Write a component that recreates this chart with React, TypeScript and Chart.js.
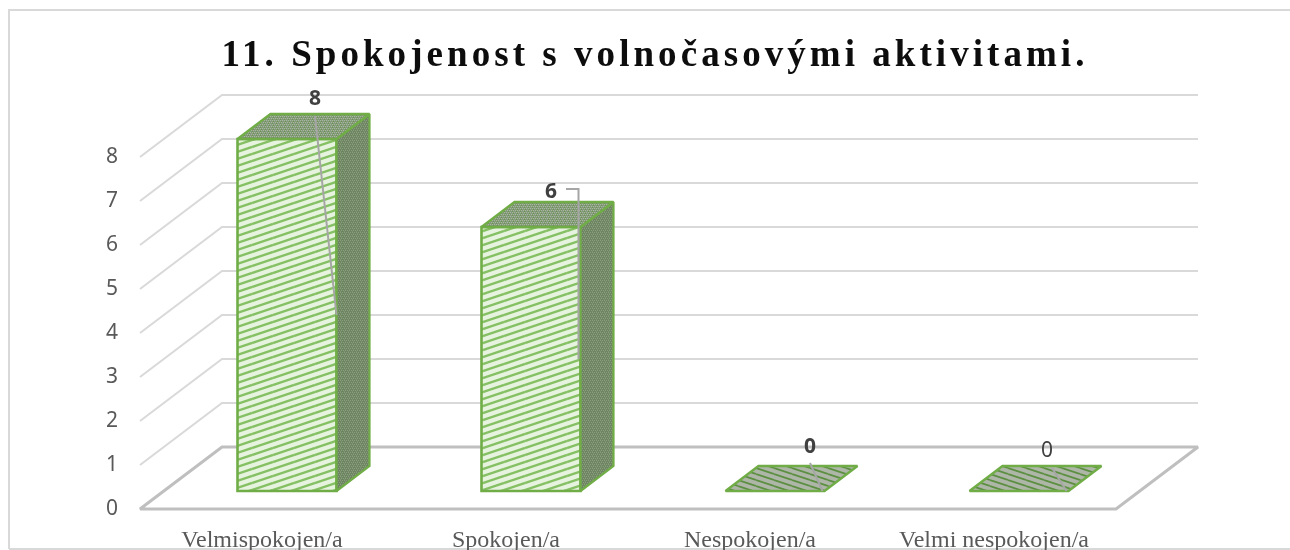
import React, { useEffect, useRef } from "react";
import { Chart, registerables } from "chart.js";

Chart.register(...registerables);

const TITLE = "11. Spokojenost s volnočasovými aktivitami.";
const categories = ["Velmispokojen/a", "Spokojen/a", "Nespokojen/a", "Velmi nespokojen/a"];
const values = [8, 6, 0, 0];
const yMax = 8;
const labelBold = [true, true, true, false];

// layout / style constants (not data)
const WALL_DX = 82;
const WALL_DY = -62;
const BAR_FRONT_DX = 25;
const BAR_FRONT_DY = -18;
const BAR_DX = 33;
const BAR_DY = -25;
const BAR_W = 99;
const GREEN = "#70ad47";
const TITLE_SHIFT = 97;
const labelOffsets = [
  [53, -42],
  [45, -37],
  [60, -46],
  [53, -42],
];

function tile(w: number, h: number, paint: (c: CanvasRenderingContext2D) => void) {
  const cv = document.createElement("canvas");
  cv.width = w;
  cv.height = h;
  const c = cv.getContext("2d")!;
  paint(c);
  return cv;
}

function stripes(w: number, h: number, bg: string, fg: string, lw: number, rising: boolean) {
  return tile(w, h, (c) => {
    c.fillStyle = bg;
    c.fillRect(0, 0, w, h);
    c.strokeStyle = fg;
    c.lineWidth = lw;
    for (let k = -2; k <= 2; k++) {
      c.beginPath();
      if (rising) {
        c.moveTo(0, h + k * h);
        c.lineTo(w, k * h);
      } else {
        c.moveTo(0, k * h);
        c.lineTo(w, h + k * h);
      }
      c.stroke();
    }
  });
}

function dots(w: number, h: number, bg: string, fg: string, fg2: string) {
  return tile(w, h, (c) => {
    c.fillStyle = bg;
    c.fillRect(0, 0, w, h);
    c.fillStyle = fg;
    for (let y = 0; y < h; y += 2) {
      for (let x = (y / 2) % 2 === 0 ? 0 : 1; x < w; x += 2) c.fillRect(x, y, 1, 1);
    }
    c.fillStyle = fg2;
    for (let y = 1; y < h; y += 2) {
      for (let x = ((y - 1) / 2) % 2 === 0 ? 1 : 0; x < w; x += 4) c.fillRect(x, y, 1, 1);
    }
  });
}

function poly(ctx: CanvasRenderingContext2D, pts: number[][], fill: any, stroke: string, lw: number) {
  ctx.beginPath();
  pts.forEach((p, i) => (i ? ctx.lineTo(p[0], p[1]) : ctx.moveTo(p[0], p[1])));
  ctx.closePath();
  if (fill) {
    ctx.fillStyle = fill;
    ctx.fill();
  }
  if (stroke) {
    ctx.strokeStyle = stroke;
    ctx.lineWidth = lw;
    ctx.lineJoin = "miter";
    ctx.miterLimit = 2;
    ctx.stroke();
  }
}

const scene3d = {
  id: "scene3d",
  beforeDraw(chart: any) {
    const tb = chart.titleBlock;
    if (tb && !tb.__spaced) {
      const orig = tb.draw.bind(tb);
      tb.draw = () => {
        const c = chart.ctx;
        c.save();
        c.letterSpacing = "4.05px";
        c.translate(TITLE_SHIFT, 0);
        orig();
        c.restore();
      };
      tb.__spaced = true;
    }
    const { ctx, width, height } = chart;
    ctx.save();
    ctx.fillStyle = "#fff";
    ctx.fillRect(0, 0, width, height);
    ctx.strokeStyle = "#d9d9d9";
    ctx.lineWidth = 2;
    ctx.beginPath();
    ctx.moveTo(9, 549);
    ctx.lineTo(9, 10);
    ctx.lineTo(width + 4, 10);
    ctx.moveTo(9, 549);
    ctx.lineTo(width + 4, 549);
    ctx.stroke();
    ctx.restore();
  },
  beforeDatasetsDraw(chart: any) {
    const { ctx, chartArea, scales } = chart;
    const yS = scales.y;
    ctx.save();
    ctx.strokeStyle = "#d9d9d9";
    ctx.lineWidth = 2;
    for (const t of yS.ticks) {
      if (t.value === 0) continue;
      const y = yS.getPixelForValue(t.value);
      ctx.beginPath();
      ctx.moveTo(chartArea.left, y);
      ctx.lineTo(chartArea.left + WALL_DX, y + WALL_DY);
      ctx.lineTo(chartArea.right + WALL_DX, y + WALL_DY);
      ctx.stroke();
    }
    const y0 = yS.getPixelForValue(0);
    poly(
      ctx,
      [
        [chartArea.left, y0],
        [chartArea.right, y0],
        [chartArea.right + WALL_DX, y0 + WALL_DY],
        [chartArea.left + WALL_DX, y0 + WALL_DY],
      ],
      null,
      "#bfbfbf",
      3
    );
    ctx.restore();
  },
  afterDatasetsDraw(chart: any) {
    const { ctx } = chart;
    const meta = chart.getDatasetMeta(0);
    const frontP = ctx.createPattern(stripes(21, 7, "#e6f3de", "#86c064", 2.4, true), "repeat");
    const sideP = ctx.createPattern(dots(4, 4, "#6d8561", "#8c9e80", "#7c9270"), "repeat");
    const topP = ctx.createPattern(dots(4, 4, "#84987a", "#a9b8a0", "#6b9353"), "repeat");
    const flatP = ctx.createPattern(stripes(18, 6, "#aeb6a8", "#5d8f43", 1.8, false), "repeat");
    ctx.save();
    meta.data.forEach((el: any, i: number) => {
      const x0 = el.x + BAR_FRONT_DX - BAR_W / 2;
      const x1 = x0 + BAR_W;
      const yT = el.y + BAR_FRONT_DY;
      const yB = el.base + BAR_FRONT_DY;
      const flat = values[i] === 0;
      if (!flat) {
        poly(ctx, [[x0, yT], [x1, yT], [x1, yB], [x0, yB]], frontP, GREEN, 2.6);
        poly(ctx, [[x1, yT], [x1 + BAR_DX, yT + BAR_DY], [x1 + BAR_DX, yB + BAR_DY], [x1, yB]], sideP, GREEN, 2.2);
      }
      poly(ctx, [[x0, yT], [x1, yT], [x1 + BAR_DX, yT + BAR_DY], [x0 + BAR_DX, yT + BAR_DY]], flat ? flatP : topP, GREEN, 2.4);

      const lx = el.x + labelOffsets[i][0];
      const ly = yT + labelOffsets[i][1];
      ctx.strokeStyle = "#a6a6a6";
      ctx.lineWidth = 2;
      ctx.beginPath();
      if (i === 1) {
        ctx.moveTo(lx + 15, ly - 1);
        ctx.lineTo(x1 - 2, ly - 1);
        ctx.lineTo(x1 - 2, yT + (yB - yT) * 0.5);
      } else if (i === 0) {
        ctx.moveTo(lx, yT + BAR_DY + 2);
        ctx.lineTo(x1, yT + (yB - yT) * 0.5);
      } else {
        ctx.moveTo(lx - (i === 2 ? 0 : -5), yT + BAR_DY - (i === 2 ? 3 : -2));
        ctx.lineTo(x1 - 2, yT);
      }
      ctx.stroke();

      ctx.fillStyle = "#404040";
      ctx.font = `${labelBold[i] ? "bold " : ""}21px "Noto Sans", sans-serif`;
      ctx.textAlign = "center";
      ctx.textBaseline = "middle";
      ctx.fillText(String(values[i]), lx, ly + 2);
    });
    ctx.restore();
  },
};

export default function App() {
  const ref = useRef<HTMLCanvasElement>(null);
  useEffect(() => {
    const chart = new Chart(ref.current!, {
      type: "bar",
      data: {
        labels: categories,
        datasets: [
          {
            data: values,
            backgroundColor: "transparent",
            borderWidth: 0,
            barThickness: BAR_W,
          },
        ],
      },
      options: {
        responsive: false,
        animation: false,
        layout: { padding: { left: 0, right: 174, top: 0, bottom: 0 } },
        plugins: {
          legend: { display: false },
          tooltip: { enabled: false },
          title: {
            display: true,
            text: TITLE,
            color: "#0d0d0d",
            font: { family: '"Liberation Serif", serif', size: 37, weight: "bold", lineHeight: 1.2 },
            padding: { top: 34, bottom: 78.6 },
            align: "center",
          },
        },
        scales: {
          x: {
            grid: { display: false, drawTicks: false },
            border: { display: false },
            ticks: {
              color: "#595959",
              padding: 17,
              maxRotation: 0,
              autoSkip: false,
              font: { family: '"Liberation Serif", serif', size: 24 },
            },
            afterFit(s: any) {
              s.height = 41;
            },
          },
          y: {
            min: 0,
            max: yMax,
            grid: { display: false, drawTicks: false },
            border: { display: false },
            ticks: {
              stepSize: 1,
              color: "#595959",
              padding: 22,
              font: { family: '"Noto Sans", sans-serif', size: 21 },
            },
            afterFit(s: any) {
              s.width = 140;
            },
          },
        },
      } as any,
      plugins: [scene3d],
    });
    return () => chart.destroy();
  }, []);
  return (
    <div style={{ position: "absolute", left: 0, top: 0, width: 1290, height: 550, background: "#fff" }}>
      <canvas ref={ref} width={1290} height={550} style={{ display: "block" }} />
    </div>
  );
}
